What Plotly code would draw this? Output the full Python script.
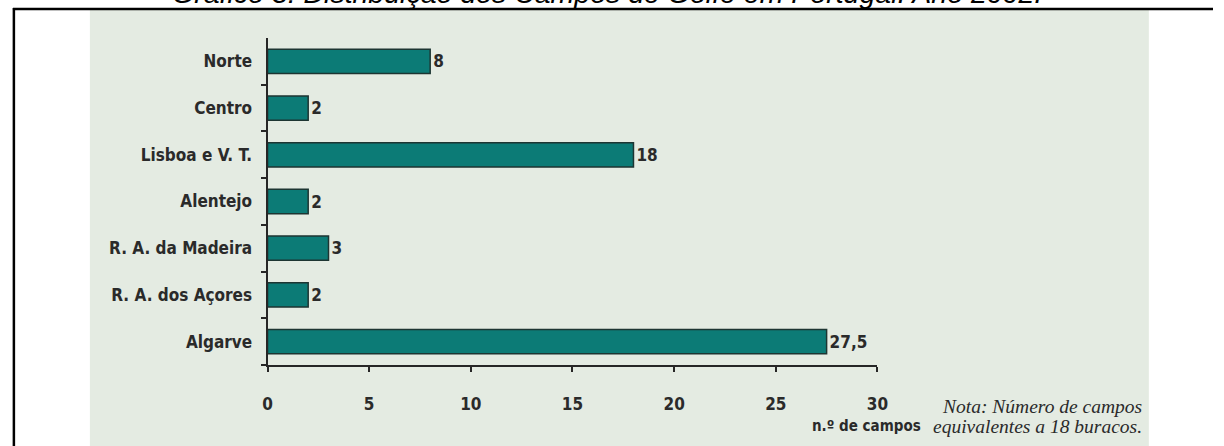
import plotly.graph_objects as go

W, H = 1224, 446

regions = ["Norte", "Centro", "Lisboa e V. T.", "Alentejo", "R. A. da Madeira", "R. A. dos Açores", "Algarve"]
campos = [8, 2, 18, 2, 3, 2, 27.5]
x_ticks = [0, 5, 10, 15, 20, 25, 30]

title_text = "Gráfico 3: Distribuição dos Campos de Golfe em Portugal. Ano 2002."
axis_title = "n.º de campos"
note_lines = ["Nota: Número de campos", "equivalentes a 18 buracos."]


def fmt(v):
    return str(int(v)) if float(v).is_integer() else str(v).replace(".", ",")


labels = [fmt(v) for v in campos]

def px(x):
    return x / W

def py(y):
    return 1 - y / H

LABEL_FONT = dict(family="DejaVu Sans Condensed, DejaVu Sans", size=17, color="#2a2a2a")
AX = "#262626"

fig = go.Figure()
fig.add_trace(go.Bar(
    y=regions, x=campos, orientation="h",
    marker=dict(color="#0c7b76", line=dict(color="#1d3532", width=1.5)),
    text=["<b>%s</b>" % t for t in labels], textposition="outside",
    textfont=LABEL_FONT, cliponaxis=False,
))

fig.update_layout(
    width=W, height=H,
    margin=dict(l=0, r=0, t=0, b=0),
    paper_bgcolor="white", plot_bgcolor="rgba(0,0,0,0)",
    showlegend=False, bargap=0.48,
    xaxis=dict(
        domain=[px(266), px(884)], range=[0, 30], tickvals=x_ticks,
        ticktext=["<b>%d</b>" % v for v in x_ticks],
        showgrid=False, zeroline=False, showline=True, linecolor=AX, linewidth=2,
        ticks="outside", ticklen=5, tickwidth=2, tickcolor=AX,
        tickfont=LABEL_FONT, ticklabelstandoff=18, fixedrange=True,
    ),
    yaxis=dict(
        domain=[py(365), py(38)], categoryorder="array",
        categoryarray=list(reversed(regions)),
        tickvals=regions, ticktext=["<b>%s</b>" % r for r in regions],
        tickson="boundaries",
        showgrid=False, zeroline=False, showline=True, linecolor=AX, linewidth=2,
        ticks="outside", ticklen=5, tickwidth=2, tickcolor=AX,
        tickfont=LABEL_FONT, ticklabelstandoff=10,
    ),
)

# background panel of the embedded chart image
fig.add_shape(type="rect", xref="paper", yref="paper", layer="below",
              x0=px(86), x1=px(1159), y0=py(446), y1=py(10),
              fillcolor="#e4ebe2", line=dict(width=0))
# document border lines
fig.add_shape(type="line", xref="paper", yref="paper",
              x0=px(8), x1=px(1224), y0=py(9), y1=py(9),
              line=dict(color="black", width=2.5))
fig.add_shape(type="line", xref="paper", yref="paper",
              x0=px(9), x1=px(9), y0=py(8), y1=py(446),
              line=dict(color="black", width=2.5))

# cut-off document title
fig.add_annotation(text="<i>%s</i>" % title_text, xref="paper", yref="paper",
                   x=px(610), y=py(-7), xanchor="center", yanchor="middle",
                   showarrow=False,
                   font=dict(family="Liberation Sans", size=28.5, color="black"))

fig.add_annotation(text="<b>%s</b>" % axis_title, xref="paper", yref="paper",
                   x=px(873), y=py(426), xanchor="center", yanchor="middle",
                   showarrow=False,
                   font=dict(family="DejaVu Sans Condensed, DejaVu Sans", size=15, color="#2a2a2a"))

for i, line in enumerate(note_lines):
    fig.add_annotation(text="<i>%s</i>" % line, xref="paper", yref="paper",
                       x=px(1154), y=py(406 + 20 * i), xanchor="right", yanchor="middle",
                       showarrow=False,
                       font=dict(family="Liberation Serif", size=19.5, color="#2a2a2a"))

fig.write_html("out.html")
